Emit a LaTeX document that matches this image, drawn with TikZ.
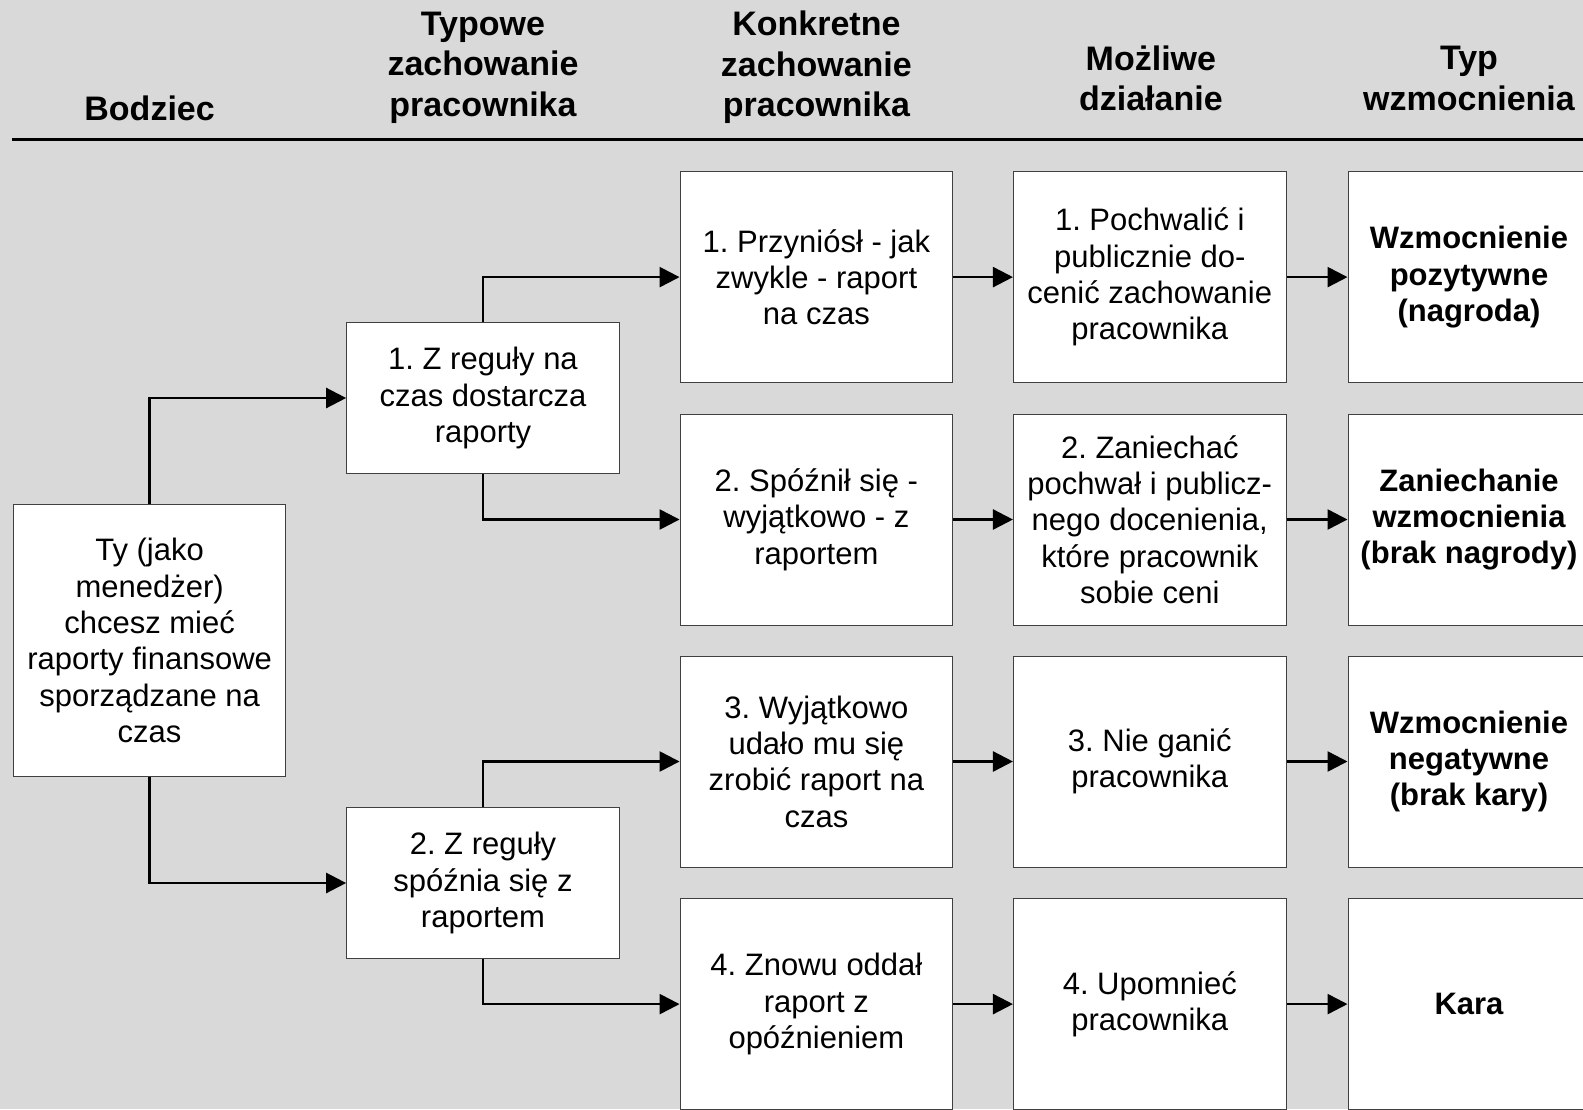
\documentclass[tikz,border=0pt]{standalone}
\usepackage{fontspec}
\setmainfont{Liberation Sans}
\usetikzlibrary{arrows.meta}
\definecolor{bgray}{RGB}{217,217,217}
\frenchspacing
\begin{document}
\begin{tikzpicture}[x=1pt,y=1pt,>={Triangle[length=20pt,width=20pt]},
		box/.style={draw=black!75,line width=1pt,fill=white,inner sep=0pt,align=center,
			minimum width=272.7pt,minimum height=211pt,font=\fontsize{31}{36.3}\selectfont},
		kind/.style={box,minimum width=242pt,font=\bfseries\fontsize{31}{36.3}\selectfont},
		head/.style={align=center,font=\bfseries\fontsize{34}{40.5}\selectfont},
		link/.style={->,line width=2.5pt}]
		\useasboundingbox (0,0) rectangle (1583,-1109);
		\fill[color=bgray] (0,0) rectangle (1583,-1109);
		\clip (0,0) rectangle (1583,-1109);
		% Header
		\node[head] (hbodziec) at (149.6,-108) {Bodziec};
		\node[head] (htypowe) at (483,-67.5) {Typowe\\zachowanie\\pracownika};
		\node[head] (hkonkret) at (816.4,-67.5) {Konkretne\\zachowanie\\pracownika};
		\node[head] (hdzialanie) at (1150.9,-78.5) {Możliwe\\działanie};
		\node[head] (htyp) at (1469,-78.5) {Typ\\wzmocnienia};
		\draw[line width=2.5pt] (12,-139.3) -- (1583,-139.3);
		% Column 1
		\node[box,minimum height=271.7pt] (ty) at (149.6,-640.5) {Ty (jako\\menedżer)\\chcesz mieć\\raporty finansowe\\sporządzane na\\czas};
		% Column 2
		\node[box,minimum height=150.4pt] (regula1) at (483,-398) {1. Z reguły na\\czas dostarcza\\raporty};
		\node[box,minimum height=150.4pt] (regula2) at (483,-883) {2. Z reguły\\spóźnia się z\\raportem};
		% Column 3
		\node[box] (fakt1) at (816.4,-277.1) {1. Przyniósł - jak\\zwykle - raport\\na czas};
		\node[box] (fakt2) at (816.4,-519.5) {2. Spóźnił się -\\wyjątkowo - z\\raportem};
		\node[box] (fakt3) at (816.4,-761.5) {3. Wyjątkowo\\udało mu się\\zrobić raport na\\czas};
		\node[box] (fakt4) at (816.4,-1004.1) {4. Znowu oddał\\raport z\\opóźnieniem};
		% Column 4
		\node[box] (akcja1) at (1149.8,-277.1) {1. Pochwalić i\\publicznie do-\\cenić zachowanie\\pracownika};
		\node[box] (akcja2) at (1149.8,-519.5) {2. Zaniechać\\pochwał i publicz-\\nego docenienia,\\które pracownik\\sobie ceni};
		\node[box] (akcja3) at (1149.8,-761.5) {3. Nie ganić\\pracownika};
		\node[box] (akcja4) at (1149.8,-1004.1) {4. Upomnieć\\pracownika};
		% Column 5
		\node[kind] (typ1) at (1469,-277.1) {Wzmocnienie\\pozytywne\\(nagroda)};
		\node[kind] (typ2) at (1469,-519.5) {Zaniechanie\\wzmocnienia\\(brak nagrody)};
		\node[kind] (typ3) at (1469,-761.5) {Wzmocnienie\\negatywne\\(brak kary)};
		\node[kind] (typ4) at (1469,-1004.1) {Kara};
		% Links
		\draw[link] (ty.north) |- (regula1.west);
		\draw[link] (ty.south) |- (regula2.west);
		\draw[link] (regula1.north) |- (fakt1.west);
		\draw[link] (regula1.south) |- (fakt2.west);
		\draw[link] (regula2.north) |- (fakt3.west);
		\draw[link] (regula2.south) |- (fakt4.west);
		\foreach \i in {1,...,4}
		{
			\draw[link] (fakt\i.east) -- (akcja\i.west);
			\draw[link] (akcja\i.east) -- (typ\i.west);
		}
	\end{tikzpicture}
\end{document}
